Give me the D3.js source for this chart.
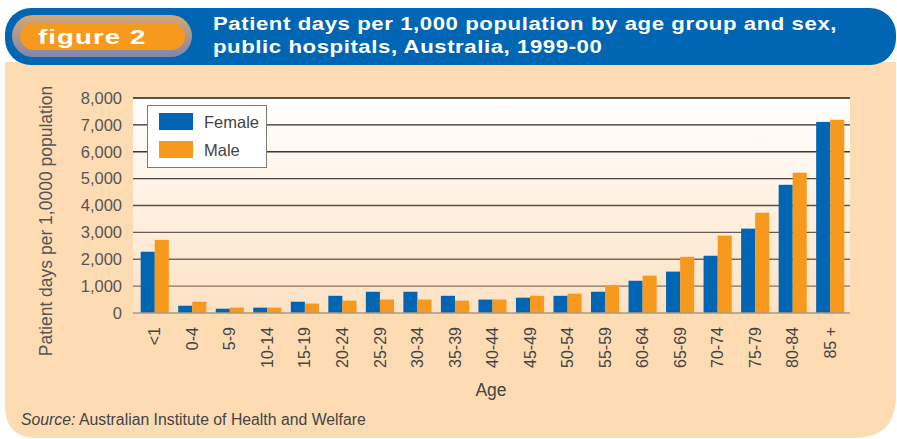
<!DOCTYPE html>
<html><head><meta charset="utf-8">
<script src="https://cdn.jsdelivr.net/npm/d3@7"></script>
<style>
html,body{margin:0;padding:0;background:#fff;}
svg{display:block;}
.txt{font-family:"Liberation Sans",Arial,Helvetica,sans-serif;}
</style></head>
<body>
<svg id="chart" width="897" height="439"></svg>
<script>
const categories = ["<1","0-4","5-9","10-14","15-19","20-24","25-29","30-34","35-39","40-44","45-49","50-54","55-59","60-64","65-69","70-74","75-79","80-84","85 +"];
const female = [2280,270,160,200,420,640,790,790,640,500,570,640,790,1200,1540,2130,3140,4770,7110];
const male   = [2720,420,200,200,350,460,500,500,460,500,640,720,1010,1390,2090,2880,3730,5220,7190];
const seriesNames = ["Female","Male"];
const yTicks = [0,1000,2000,3000,4000,5000,6000,7000,8000];
const titleLines = ["Patient days per 1,000 population by age group and sex,","public hospitals, Australia, 1999-00"];
const figureLabel = "figure 2";
const yTitle = "Patient days per 1,0000 population";
const xTitle = "Age";

const colors = {Female:"#0065B3", Male:"#F7991C"};
const svg = d3.select("#chart");
const defs = svg.append("defs");

const pg = defs.append("linearGradient").attr("id","plotbg").attr("x1",0).attr("y1",0).attr("x2",0).attr("y2",1);
pg.append("stop").attr("offset","0%").attr("stop-color","#ffffff");
pg.append("stop").attr("offset","100%").attr("stop-color","#FDE2C4");
const rg = defs.append("linearGradient").attr("id","ring").attr("x1",0).attr("y1",0).attr("x2",0).attr("y2",1);
rg.append("stop").attr("offset","0%").attr("stop-color","#D7A672");
rg.append("stop").attr("offset","100%").attr("stop-color","#7F86B0");

// peach panel
const L=5, R=896, T=62, B=438, rbl=32, rbr=42;
svg.append("path")
  .attr("d",`M${L},${T} H${R} V${B-rbr} Q${R},${B} ${R-rbr},${B} H${L+rbl} Q${L},${B} ${L},${B-rbl} Z`)
  .attr("fill","#FDDCB4");

// blue header
svg.append("rect").attr("x",5).attr("y",8).attr("width",891).attr("height",57)
  .attr("rx",26).attr("ry",26).attr("fill","#0066B3");

// figure pill
svg.append("rect").attr("x",12).attr("y",15).attr("width",180).attr("height",42)
  .attr("rx",21).attr("fill","url(#ring)");
svg.append("rect").attr("x",20).attr("y",23).attr("width",165).attr("height",27)
  .attr("rx",13.5).attr("fill","#F7991C");
svg.append("text").attr("class","txt").attr("transform","translate(38,43.5) scale(1.35,1)")
  .text(figureLabel).attr("fill","#fff").attr("font-weight","bold")
  .attr("font-size",20.5).attr("letter-spacing",0.8);

svg.append("g").selectAll("text").data(titleLines).join("text").attr("class","txt")
  .attr("transform",(d,i)=>`translate(213,${30+i*23}) scale(1.2,1)`).text(d=>d)
  .attr("fill","#fff").attr("font-weight","bold")
  .attr("font-size",18.5).attr("letter-spacing",0.47);

// plot
const px0=133, px1=850, py0=98, py1=313;
const y = d3.scaleLinear().domain([0,8000]).range([py1,py0]);
const x = d3.scaleBand().domain(categories).range([136,849]).paddingInner(0.25).paddingOuter(0.125);
const xs = d3.scaleBand().domain(seriesNames).range([0,x.bandwidth()]);

svg.append("rect").attr("x",px0).attr("y",py0).attr("width",px1-px0).attr("height",py1-py0)
  .attr("fill","url(#plotbg)");

const gridColor = d3.interpolateRgb("#1e1e1e","#8f8174");
svg.append("g").selectAll("line").data(yTicks.filter(d=>d>0)).join("line")
  .attr("x1",px0).attr("x2",px1).attr("y1",d=>y(d)).attr("y2",d=>y(d))
  .attr("stroke",d=>gridColor(1-d/8000)).attr("stroke-width",1.4);

const bars = svg.append("g");
categories.forEach((c,i)=>{
  const vals = [female[i], male[i]];
  bars.selectAll(null).data(seriesNames.map((s,j)=>({s, v:vals[j]}))).join("rect")
    .attr("x",d=>x(c)+xs(d.s)).attr("width",xs.bandwidth())
    .attr("y",d=>y(d.v)).attr("height",d=>y(0)-y(d.v))
    .attr("fill",d=>colors[d.s]);
});

svg.append("line").attr("x1",px0).attr("x2",px1).attr("y1",y(0)).attr("y2",y(0))
  .attr("stroke","#A89888").attr("stroke-width",1.6);

// y axis
const yAxis = svg.append("g").attr("class","txt").attr("transform",`translate(${px0},0)`)
  .call(d3.axisLeft(y).tickValues(yTicks).tickFormat(d3.format(",")).tickSize(0).tickPadding(11));
yAxis.select(".domain").remove();
yAxis.selectAll("text").attr("font-size",16.5).attr("fill","#555").attr("font-family",null);

// x axis
const xAxis = svg.append("g").attr("class","txt").attr("transform",`translate(0,${py1})`)
  .call(d3.axisBottom(x).tickSize(0));
xAxis.select(".domain").remove();
xAxis.selectAll("text")
  .attr("transform","rotate(-90)").attr("x",-14).attr("y",0).attr("dy","0.35em")
  .attr("text-anchor","end").attr("font-size",16).attr("fill","#444").attr("font-family",null);

svg.append("text").attr("class","txt").attr("transform","translate(52,221) rotate(-90)")
  .attr("text-anchor","middle").attr("font-size",17.5).attr("fill","#555").text(yTitle);
svg.append("text").attr("class","txt").attr("x",491).attr("y",396)
  .attr("text-anchor","middle").attr("font-size",17.5).attr("fill","#444").text(xTitle);

const src = svg.append("text").attr("class","txt").attr("x",21).attr("y",425)
  .attr("font-size",15.8).attr("fill","#444");
src.append("tspan").attr("font-style","italic").text("Source:");
src.append("tspan").text(" Australian Institute of Health and Welfare");

// legend
const lg = svg.append("g").attr("class","txt");
lg.append("rect").attr("x",147.5).attr("y",105.5).attr("width",119).attr("height",62)
  .attr("fill","#fff").attr("stroke","#7a7a7a").attr("stroke-width",1);
seriesNames.forEach((s,i)=>{
  lg.append("rect").attr("x",159).attr("y",113+i*28).attr("width",34).attr("height",17).attr("fill",colors[s]);
  lg.append("text").attr("x",204).attr("y",128+i*28).attr("font-size",16.5).attr("fill","#444").text(s);
});
</script>
</body></html>
